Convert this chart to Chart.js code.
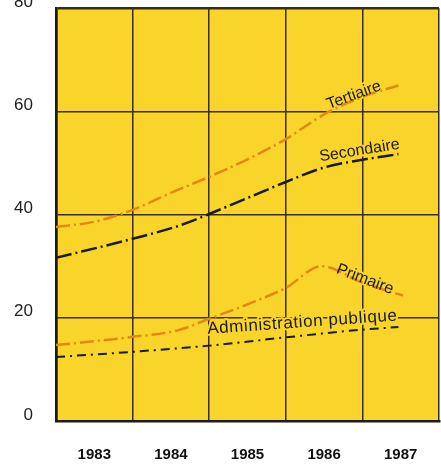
<!DOCTYPE html>
<html>
<head>
<meta charset="utf-8">
<script src="https://cdn.jsdelivr.net/npm/chart.js@4"></script>
<style>
  body { margin: 0; background: #fff; }
  canvas { display: block; }
</style>
</head>
<body>
<canvas id="chart" width="441" height="465"></canvas>
<script>
const years = ['1983', '1984', '1985', '1986', '1987'];
const yTicks = [0, 20, 40, 60, 80];

const tertiaireYears = [1982.5, 1983.0, 1983.5, 1984.0, 1984.5, 1985.0, 1985.5, 1986.0, 1986.5, 1986.97];
const tertiaireValues = [37.6, 38.6, 40.9, 44.2, 47.3, 50.7, 54.6, 59.4, 62.8, 65.0];

const secondaireYears = [1982.5, 1983.5, 1984.1, 1984.5, 1985.0, 1985.5, 1986.0, 1986.5, 1986.97];
const secondaireValues = [31.6, 35.3, 37.8, 40.1, 43.2, 46.3, 49.1, 50.6, 51.7];

const primaireYears = [1982.5, 1983.5, 1984.1, 1984.5, 1985.0, 1985.5, 1985.97, 1986.5, 1987.03];
const primaireValues = [14.7, 16.3, 17.6, 19.8, 22.6, 25.8, 30.0, 26.8, 24.3];

const adminYears = [1982.5, 1983.5, 1984.5, 1985.5, 1986.5, 1986.97];
const adminValues = [12.4, 13.4, 14.6, 16.2, 17.7, 18.2];

const seriesNames = ['Tertiaire', 'Secondaire', 'Primaire', 'Administration publique'];

const yellow = '#F9D42A';
const orange = '#E08A12';
const ink = '#1c1a16';
const gridColor = '#3a2c14';

const toPoints = (xs, ys) => xs.map((x, i) => ({ x, y: ys[i] }));

// where each series name sits along its line (data coords), its tilt and size
const nameSpots = [
  { year: 1986.06, value: 60.4, angle: -20, size: 16, spacing: 0 },
  { year: 1985.95, value: 50.3, angle: -9, size: 16, spacing: 0 },
  { year: 1986.15, value: 28.7, angle: 21, size: 16, spacing: 0 },
  { year: 1984.48, value: 16.9, angle: -4, size: 17, spacing: 0.6 },
];

const plotBackground = {
  id: 'plotBackground',
  beforeDraw(chart) {
    const { ctx, chartArea: a } = chart;
    ctx.save();
    ctx.fillStyle = yellow;
    ctx.fillRect(a.left, a.top, a.right - a.left, a.bottom - a.top);
    ctx.restore();
  },
};

function eachName(chart, draw) {
  const { ctx, scales } = chart;
  ctx.save();
  ctx.textAlign = 'left';
  ctx.textBaseline = 'alphabetic';
  seriesNames.forEach((name, i) => {
    const spot = nameSpots[i];
    const px = scales.xl.getPixelForValue(spot.year);
    const py = scales.y.getPixelForValue(spot.value);
    ctx.save();
    ctx.font = `${spot.size}px "Liberation Sans", Arial, sans-serif`;
    ctx.letterSpacing = `${spot.spacing}px`;
    ctx.translate(px, py);
    ctx.rotate(spot.angle * Math.PI / 180);
    draw(ctx, name);
    ctx.restore();
  });
  ctx.restore();
}

const seriesNamesPlugin = {
  id: 'seriesNames',
  beforeDatasetsDraw(chart) {
    eachName(chart, (ctx, name) => {
      ctx.strokeStyle = yellow;
      ctx.lineWidth = 4;
      ctx.lineJoin = 'round';
      ctx.strokeText(name, 0, 0);
    });
  },
  afterDatasetsDraw(chart) {
    eachName(chart, (ctx, name) => {
      ctx.fillStyle = ink;
      ctx.fillText(name, 0, 0);
    });
  },
};

new Chart(document.getElementById('chart'), {
  type: 'line',
  data: {
    labels: years,
    datasets: [
      {
        label: seriesNames[0],
        data: toPoints(tertiaireYears, tertiaireValues),
        borderColor: orange,
        borderWidth: 2.5,
        borderDash: [14, 4, 2, 4],
      },
      {
        label: seriesNames[1],
        data: toPoints(secondaireYears, secondaireValues),
        borderColor: ink,
        borderWidth: 2.5,
        borderDash: [16, 4, 2, 4],
      },
      {
        label: seriesNames[2],
        data: toPoints(primaireYears, primaireValues),
        borderColor: orange,
        borderWidth: 2.5,
        borderDash: [14, 4, 2, 4],
      },
      {
        label: seriesNames[3],
        data: toPoints(adminYears, adminValues),
        borderColor: ink,
        borderWidth: 2,
        borderDash: [9, 5, 2, 5],
      },
    ].map(ds => ({ ...ds, xAxisID: 'xl', pointRadius: 0, fill: false, cubicInterpolationMode: 'monotone' })),
  },
  options: {
    responsive: false,
    animation: false,
    layout: { padding: { top: 8, right: 2, left: 0, bottom: 0 } },
    plugins: { legend: { display: false }, tooltip: { enabled: false } },
    scales: {
      x: {
        type: 'category',
        offset: true,
        grid: {
          offset: true,
          drawTicks: false,
          color: gridColor,
          lineWidth: c => (c.index === 0 || c.index >= years.length) ? 2.5 : 1.5,
        },
        border: { display: true, color: ink, width: 2.5 },
        ticks: {
          padding: 25,
          color: '#111',
          font: { family: '"Liberation Sans", Arial, sans-serif', size: 15, weight: 'bold' },
        },
        afterFit: s => { s.height = 44; s.paddingLeft = 0; s.paddingRight = 0; },
      },
      xl: {
        type: 'linear',
        display: false,
        min: 1982.5,
        max: 1987.5,
      },
      y: {
        min: yTicks[0],
        max: yTicks[yTicks.length - 1],
        afterBuildTicks: s => { s.ticks = yTicks.map(value => ({ value })); },
        grid: {
          drawTicks: false,
          color: gridColor,
          lineWidth: c => c.tick && c.tick.value === 80 ? 2.5 : 1.5,
        },
        border: { display: true, color: ink, width: 2.5 },
        ticks: {
          padding: 23,
          labelOffset: -6,
          color: '#222',
          font: { family: '"Liberation Sans", Arial, sans-serif', size: 17 },
        },
        afterFit: s => { s.width = 56; s.paddingTop = 0; s.paddingBottom = 0; },
      },
    },
  },
  plugins: [plotBackground, seriesNamesPlugin],
});
</script>
</body>
</html>
